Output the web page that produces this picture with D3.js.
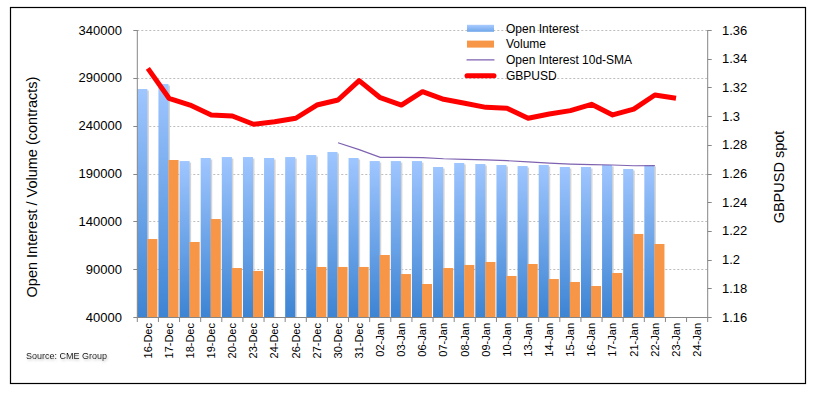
<!DOCTYPE html>
<html>
<head>
<meta charset="utf-8">
<script src="https://d3js.org/d3.v7.min.js"></script>
<style>
  body { margin: 0; background: #fff; }
  text { font-family: "Liberation Sans", Arial, sans-serif; fill: #000; }
</style>
</head>
<body>
<svg width="818" height="394" id="mainsvg"></svg>
<script>
const dates = ['16-Dec','17-Dec','18-Dec','19-Dec','20-Dec','23-Dec','24-Dec','26-Dec','27-Dec','30-Dec','31-Dec',
  '02-Jan','03-Jan','06-Jan','07-Jan','08-Jan','09-Jan','10-Jan','13-Jan','14-Jan','15-Jan','16-Jan','17-Jan',
  '21-Jan','22-Jan','23-Jan','24-Jan']
const openInterest = [278300, 283500, 203000, 206200, 207200, 207200, 206200, 207200, 209300, 212500, 206200,
  203000, 203000, 203000, 196800, 201000, 199900, 198900, 197800, 198900, 196800, 196800, 198900,
  194700, 198900, null, null]
const volume = [121500, 204100, 118400, 142400, 91200, 88100, null, null, 92300, 92300, 92300,
  104800, 84900, 74500, 91200, 94400, 97500, 82900, 95400, 79700, 76600, 72400, 86000,
  126800, 116300, null, null]
const oiSma = [null, null, null, null, null, null, null, null, null, 222100, 214900,
  206800, 206800, 206500, 205400, 204800, 204200, 203400, 202200, 200900, 199900, 199300, 198900,
  198100, 198300, null, null]
const gbpusd = [1.3333, 1.3124, 1.3077, 1.3008, 1.3001, 1.2943, 1.2961, 1.2985, 1.3077, 1.3112, 1.3247,
  1.3128, 1.3077, 1.3170, 1.3117, 1.3089, 1.3061, 1.3054, 1.2985, 1.3015, 1.3038, 1.3082, 1.3008,
  1.3049, 1.3147, 1.3124, null]
const leftTicks = [40000, 90000, 140000, 190000, 240000, 290000, 340000]
const rightTicks = [1.16, 1.18, 1.2, 1.22, 1.24, 1.26, 1.28, 1.3, 1.32, 1.34, 1.36]

const svg = d3.select('#mainsvg')
const plot = {left: 137.3, right: 707.7, top: 30, bottom: 317}

// frame
svg.append('rect').attr('x', 10.5).attr('y', 7.5).attr('width', 795).attr('height', 376)
  .attr('fill', 'none').attr('stroke', '#000').attr('stroke-width', 1.2)

const x = d3.scaleBand().domain(dates).range([plot.left, plot.right]).padding(0)
const yL = d3.scaleLinear().domain([40000, 340000]).range([plot.bottom, plot.top])
const yR = d3.scaleLinear().domain([1.16, 1.36]).range([plot.bottom, plot.top])

const defs = svg.append('defs')
const grad = defs.append('linearGradient').attr('id', 'blueGrad')
  .attr('x1', 0).attr('y1', 0).attr('x2', 0).attr('y2', 1)
grad.append('stop').attr('offset', '0%').attr('stop-color', '#9fc6ff')
grad.append('stop').attr('offset', '100%').attr('stop-color', '#3d84d3')
const gradL = defs.append('linearGradient').attr('id', 'blueGradL')
  .attr('x1', 0).attr('y1', 0).attr('x2', 0).attr('y2', 1)
gradL.append('stop').attr('offset', '0%').attr('stop-color', '#a9ccff')
gradL.append('stop').attr('offset', '100%').attr('stop-color', '#6fa6ea')
const blur = defs.append('filter').attr('id', 'soft')
  .attr('x', '-10%').attr('y', '-30%').attr('width', '130%').attr('height', '180%')
blur.append('feDropShadow').attr('dx', 1).attr('dy', 1.5).attr('stdDeviation', 1)
  .attr('flood-color', '#999').attr('flood-opacity', 0.6)

// grid
svg.append('g').selectAll('line').data(leftTicks.slice(1)).join('line')
  .attr('x1', plot.left).attr('x2', plot.right)
  .attr('y1', d => Math.round(yL(d)) + 0.5).attr('y2', d => Math.round(yL(d)) + 0.5)
  .attr('stroke', '#bdbdbd').attr('stroke-dasharray', '2,2')

const bw = x.bandwidth()
const half = (bw - 1) / 2
const rows = dates.map((d, i) => ({d, oi: openInterest[i], vol: volume[i], sma: oiSma[i], fx: gbpusd[i]}))

// open interest shadow + bars
svg.append('g').selectAll('rect').data(rows.filter(r => r.oi != null)).join('rect')
  .attr('x', r => x(r.d) + 1.5).attr('y', r => yL(r.oi) + 1.5)
  .attr('width', half).attr('height', r => plot.bottom - yL(r.oi) - 1.5)
  .attr('fill', '#d4d4d4')
svg.append('g').selectAll('rect').data(rows.filter(r => r.oi != null)).join('rect')
  .attr('x', r => x(r.d)).attr('y', r => yL(r.oi))
  .attr('width', half).attr('height', r => plot.bottom - yL(r.oi))
  .attr('fill', 'url(#blueGrad)')
svg.append('g').selectAll('rect').data(rows.filter(r => r.vol != null)).join('rect')
  .attr('x', r => x(r.d) + half).attr('y', r => yL(r.vol))
  .attr('width', half).attr('height', r => plot.bottom - yL(r.vol))
  .attr('fill', '#f79646')

// SMA
svg.append('path').datum(rows.filter(r => r.sma != null))
  .attr('fill', 'none').attr('stroke', '#7e62b0').attr('stroke-width', 1.2)
  .attr('d', d3.line().x(r => x(r.d) + bw / 2).y(r => yL(r.sma)))

// GBPUSD
svg.append('path').datum(rows.filter(r => r.fx != null))
  .attr('fill', 'none').attr('stroke', '#ff0000').attr('stroke-width', 5)
  .attr('stroke-linejoin', 'round')
  .attr('d', d3.line().x(r => x(r.d) + bw / 2).y(r => yR(r.fx)))

// axes
const axisColor = '#868686'
const ax = svg.append('g').attr('stroke', axisColor).attr('stroke-width', 1)
ax.append('line').attr('x1', plot.left).attr('x2', plot.left).attr('y1', plot.top).attr('y2', plot.bottom + 0.5)
ax.append('line').attr('x1', plot.right).attr('x2', plot.right).attr('y1', plot.top).attr('y2', plot.bottom + 0.5)
ax.append('line').attr('x1', plot.left).attr('x2', plot.right).attr('y1', plot.bottom + 0.5).attr('y2', plot.bottom + 0.5)
ax.selectAll('.tl').data(leftTicks).join('line').attr('class', 'tl')
  .attr('x1', plot.left - 4).attr('x2', plot.left)
  .attr('y1', d => Math.round(yL(d)) + 0.5).attr('y2', d => Math.round(yL(d)) + 0.5)
ax.selectAll('.tr').data(rightTicks).join('line').attr('class', 'tr')
  .attr('x1', plot.right).attr('x2', plot.right + 4)
  .attr('y1', d => Math.round(yR(d)) + 0.5).attr('y2', d => Math.round(yR(d)) + 0.5)
ax.selectAll('.tx').data(dates.concat(['end'])).join('line').attr('class', 'tx')
  .attr('x1', (d, i) => plot.left + i * bw).attr('x2', (d, i) => plot.left + i * bw)
  .attr('y1', plot.bottom).attr('y2', plot.bottom + 5)

svg.append('g').selectAll('text').data(leftTicks).join('text')
  .attr('x', 122).attr('y', d => yL(d)).attr('dy', '0.35em')
  .attr('text-anchor', 'end').attr('font-size', 13).text(d => d)
svg.append('g').selectAll('text').data(rightTicks).join('text')
  .attr('x', 722).attr('y', d => yR(d)).attr('dy', '0.35em')
  .attr('font-size', 13).text(d => d3.format('')(d))
svg.append('g').selectAll('text').data(dates).join('text')
  .attr('transform', d => `translate(${x(d) + bw / 2},323) rotate(-90)`)
  .attr('dy', '0.35em').attr('text-anchor', 'end').attr('font-size', 11).text(d => d)

svg.append('text').attr('transform', 'translate(32,187) rotate(-90)')
  .attr('dy', '0.35em').attr('text-anchor', 'middle').attr('font-size', 14.5)
  .text('Open Interest / Volume (contracts)')
svg.append('text').attr('transform', 'translate(779,177) rotate(-90)')
  .attr('dy', '0.35em').attr('text-anchor', 'middle').attr('font-size', 14.5)
  .text('GBPUSD spot')

svg.append('text').attr('x', 26).attr('y', 359).attr('font-size', 9)
  .attr('filter', 'url(#soft)').text('Source: CME Group')

// legend
const legend = [
  {name: 'Open Interest', type: 'rect', color: 'url(#blueGradL)'},
  {name: 'Volume', type: 'rect', color: '#f79646'},
  {name: 'Open Interest 10d-SMA', type: 'line', color: '#7e62b0', w: 1.2},
  {name: 'GBPUSD', type: 'line', color: '#ff0000', w: 5}
]
const lg = svg.append('g').selectAll('g').data(legend).join('g')
  .attr('transform', (d, i) => `translate(467,${28.3 + i * 15.8})`)
lg.filter(d => d.type === 'rect').append('rect')
  .attr('x', 0).attr('y', -3.5).attr('width', 27).attr('height', 7).attr('fill', d => d.color)
lg.filter(d => d.type === 'line').append('line')
  .attr('x1', 0).attr('x2', 27).attr('y1', 0).attr('y2', 0)
  .attr('stroke', d => d.color).attr('stroke-width', d => d.w).attr('stroke-linecap', 'round')
lg.append('text').attr('x', 39).attr('dy', '0.35em').attr('font-size', 12).text(d => d.name)
</script>
</body>
</html>
